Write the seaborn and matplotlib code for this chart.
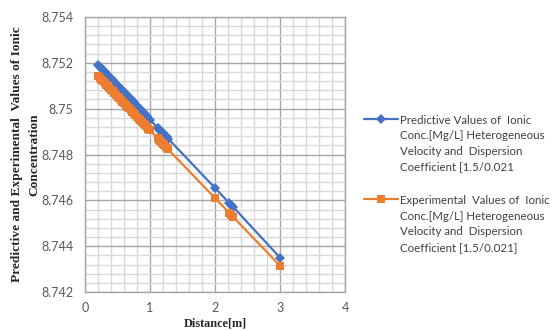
import matplotlib
matplotlib.use("Agg")
import matplotlib.pyplot as plt
from matplotlib.ticker import MultipleLocator, FixedLocator
import seaborn as sns
import pandas as pd

# ---- data ----
distance = [0.200, 0.225, 0.250, 0.275, 0.300, 0.325, 0.350, 0.375, 0.400,
            0.425, 0.450, 0.475, 0.500, 0.525, 0.550, 0.575, 0.600, 0.625,
            0.650, 0.675, 0.700, 0.725, 0.750, 0.775, 0.800, 0.825, 0.850,
            0.875, 0.900, 0.925, 0.950, 0.975, 1.000,
            1.12, 1.14, 1.16, 1.18, 1.20, 1.22, 1.24, 1.26, 1.28,
            2.00, 2.22, 2.25, 2.28, 3.00]
predicted = [8.75190, 8.75183, 8.75176, 8.75168, 8.75161, 8.75153, 8.75146,
             8.75138, 8.75131, 8.75123, 8.75116, 8.75108, 8.75101, 8.75094,
             8.75086, 8.75079, 8.75071, 8.75064, 8.75056, 8.75049, 8.75041,
             8.75034, 8.75027, 8.75019, 8.75012, 8.75004, 8.74997, 8.74989,
             8.74982, 8.74974, 8.74967, 8.74959, 8.74952,
             8.74916, 8.74910, 8.74904, 8.74898, 8.74892, 8.74886, 8.74880,
             8.74875, 8.74869,
             8.74654, 8.74588, 8.74580, 8.74571, 8.74350]
experimental = [8.75141, 8.75134, 8.75126, 8.75119, 8.75112, 8.75104, 8.75097,
                8.75089, 8.75082, 8.75075, 8.75067, 8.75060, 8.75053, 8.75045,
                8.75038, 8.75030, 8.75023, 8.75016, 8.75008, 8.75001, 8.74994,
                8.74986, 8.74979, 8.74971, 8.74964, 8.74957, 8.74949, 8.74942,
                8.74935, 8.74927, 8.74920, 8.74912, 8.74905,
                8.74870, 8.74864, 8.74858, 8.74852, 8.74846, 8.74840, 8.74834,
                8.74828, 8.74822,
                8.74610, 8.74545, 8.74536, 8.74527, 8.74315]
x_ticks = [0, 1, 2, 3, 4]
y_ticks = [8.742, 8.744, 8.746, 8.748, 8.750, 8.752, 8.754]
y_tick_labels = ["8.742", "8.744", "8.746", "8.748", "8.75", "8.752", "8.754"]
label_pred = ("Predictive Values of  Ionic\nConc.[Mg/L] Heterogeneous\n"
              "Velocity and  Dispersion\nCoefficient [1.5/0.021")
label_exp = ("Experimental  Values of  Ionic\nConc.[Mg/L] Heterogeneous\n"
             "Velocity and  Dispersion\nCoefficient [1.5/0.021]")
x_label = "Distance[m]"
y_label = "Predictive and Experimental  Values of Ionic\nConcentration"

df = pd.DataFrame({"Distance": distance, "Predicted": predicted,
                   "Experimental": experimental})

sns.set_style("white")
plt.rcParams["font.family"] = ["Lato", "DejaVu Sans"]

fig = plt.figure(figsize=(5.57, 3.31), dpi=100)
ax = fig.add_axes([85 / 557, 1 - 292 / 331, 260 / 557, 275 / 331])

blue = "#4472C4"
orange = "#ED7D31"
sns.lineplot(data=df, x="Distance", y="Predicted", ax=ax, color=blue,
             marker="D", markersize=4.6, markeredgewidth=0, linewidth=1.6,
             sort=False, label=label_pred, zorder=3)
sns.lineplot(data=df, x="Distance", y="Experimental", ax=ax, color=orange,
             marker="s", markersize=5.6, markeredgewidth=0, linewidth=1.6,
             sort=False, label=label_exp, zorder=4)

ax.set_xlim(0, 4)
ax.set_ylim(8.742, 8.754)
ax.xaxis.set_major_locator(FixedLocator(x_ticks))
ax.xaxis.set_minor_locator(MultipleLocator(0.2))
ax.yaxis.set_major_locator(FixedLocator(y_ticks))
ax.set_yticklabels(y_tick_labels)
ax.yaxis.set_minor_locator(MultipleLocator(0.0004))

ax.grid(which="minor", color="#D9D9D9", linewidth=1.0, zorder=0)
ax.grid(which="major", color="#A6A6A6", linewidth=1.0, zorder=0)
ax.set_axisbelow(True)
for s in ax.spines.values():
    s.set_color("#A6A6A6")
    s.set_linewidth(1.0)

ax.tick_params(which="major", direction="out", length=4, width=1,
               color="#A6A6A6", labelsize=9, labelcolor="#595959", pad=4.5)
ax.tick_params(which="minor", length=0)
ax.tick_params(axis="x", pad=3.5)

ax.set_xlabel(x_label, family="Liberation Serif", fontweight="bold",
              fontsize=8.8, color="#262626", labelpad=2)
ax.set_ylabel(y_label, family="Liberation Serif", fontweight="bold",
              fontsize=9.6, color="#262626", labelpad=0.7, linespacing=1.6)

ax.legend_.remove()
handles, labels = ax.get_legend_handles_labels()
leg = fig.legend(handles, labels, loc="upper left",
                 bbox_to_anchor=(358 / 557, 1 - 109 / 331), frameon=False,
                 fontsize=8.3, handlelength=3.0, handletextpad=0.1,
                 labelspacing=2.0, borderpad=0, labelcolor="#404040")
for col in leg._legend_handle_box.get_children():
    for item in col.get_children():
        item.align = "top"
for t in leg.get_texts():
    t.set_linespacing(1.5)

fig.savefig("out.png", dpi=100)
